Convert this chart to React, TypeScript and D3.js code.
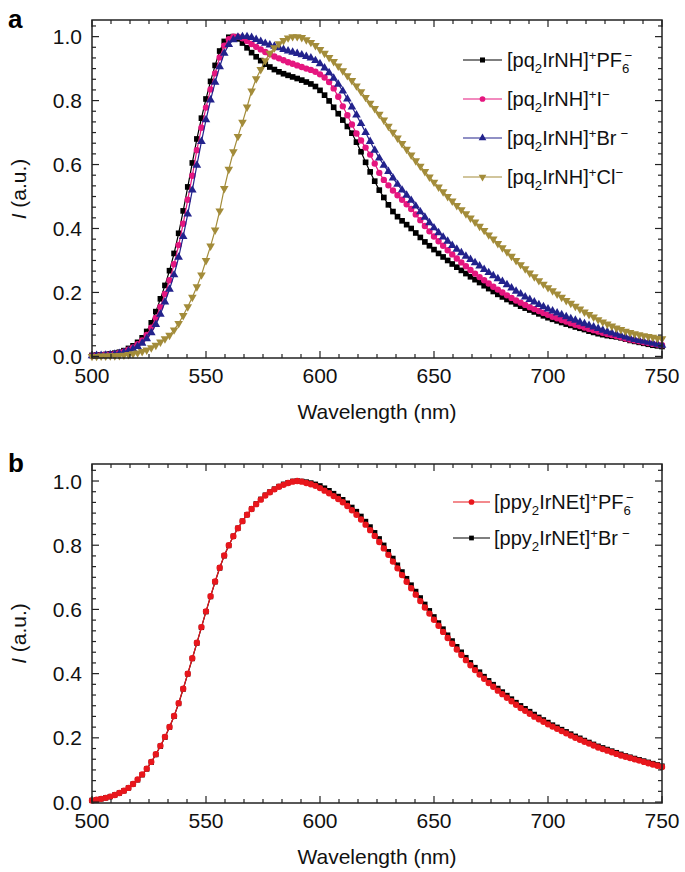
import React from 'react'
import * as d3 from 'd3'

const W = 685
const H = 872
const LEFT = 92
const RIGHT = 662
const FONT = '"Liberation Sans", Arial, Helvetica, sans-serif'

// emission spectra sampled every 2 nm
const WAVELENGTHS = d3.range(500, 751, 2)

// panel a
const PQ_PF6 = [
  0.003, 0.004, 0.005, 0.006, 0.008, 0.010, 0.013, 0.018, 0.025, 0.033,
  0.044, 0.058, 0.078, 0.105, 0.140, 0.180, 0.222, 0.268, 0.322, 0.385,
  0.455, 0.530, 0.605, 0.680, 0.745, 0.805, 0.860, 0.910, 0.955, 0.985,
  0.998, 1.000, 0.993, 0.980, 0.965, 0.950, 0.937, 0.925, 0.914, 0.905,
  0.897, 0.890, 0.884, 0.879, 0.874, 0.869, 0.864, 0.858, 0.852, 0.844,
  0.832, 0.817, 0.799, 0.779, 0.759, 0.739, 0.719, 0.698, 0.670, 0.640,
  0.607, 0.577, 0.548, 0.520, 0.497, 0.474, 0.453, 0.437, 0.424, 0.412,
  0.400, 0.386, 0.372, 0.358, 0.346, 0.334, 0.322, 0.311, 0.300, 0.289,
  0.279, 0.269, 0.259, 0.249, 0.240, 0.231, 0.221, 0.212, 0.203, 0.194,
  0.186, 0.178, 0.171, 0.164, 0.157, 0.151, 0.145, 0.139, 0.133, 0.127,
  0.121, 0.116, 0.111, 0.106, 0.101, 0.097, 0.092, 0.088, 0.084, 0.079,
  0.075, 0.071, 0.068, 0.065, 0.063, 0.061, 0.058, 0.054, 0.050, 0.047,
  0.044, 0.041, 0.038, 0.035, 0.033, 0.031,
]
const PQ_I = [
  0.002, 0.003, 0.004, 0.005, 0.006, 0.008, 0.011, 0.015, 0.021, 0.028,
  0.038, 0.050, 0.067, 0.090, 0.120, 0.155, 0.195, 0.238, 0.288, 0.348,
  0.415, 0.490, 0.565, 0.645, 0.715, 0.778, 0.835, 0.885, 0.935, 0.972,
  0.992, 1.000, 1.000, 0.995, 0.986, 0.977, 0.968, 0.960, 0.952, 0.945,
  0.938, 0.932, 0.926, 0.920, 0.915, 0.910, 0.905, 0.900, 0.896, 0.890,
  0.882, 0.872, 0.858, 0.838, 0.812, 0.782, 0.754, 0.725, 0.697, 0.675,
  0.653, 0.631, 0.603, 0.574, 0.552, 0.535, 0.519, 0.504, 0.490, 0.476,
  0.461, 0.444, 0.426, 0.408, 0.391, 0.375, 0.360, 0.346, 0.332, 0.319,
  0.306, 0.294, 0.282, 0.270, 0.259, 0.248, 0.238, 0.228, 0.218, 0.209,
  0.200, 0.191, 0.183, 0.175, 0.168, 0.161, 0.154, 0.148, 0.142, 0.136,
  0.130, 0.124, 0.119, 0.114, 0.109, 0.104, 0.099, 0.095, 0.090, 0.086,
  0.082, 0.078, 0.074, 0.070, 0.067, 0.064, 0.060, 0.056, 0.053, 0.050,
  0.047, 0.044, 0.042, 0.039, 0.037, 0.035,
]
const PQ_BR = [
  0.002, 0.003, 0.003, 0.004, 0.005, 0.007, 0.009, 0.012, 0.017, 0.023,
  0.031, 0.041, 0.055, 0.074, 0.100, 0.132, 0.170, 0.210, 0.255, 0.310,
  0.375, 0.445, 0.520, 0.598, 0.672, 0.740, 0.802, 0.857, 0.906, 0.948,
  0.975, 0.990, 0.998, 1.000, 1.000, 0.997, 0.991, 0.985, 0.979, 0.974,
  0.970, 0.965, 0.960, 0.955, 0.951, 0.947, 0.943, 0.938, 0.933, 0.925,
  0.915, 0.902, 0.887, 0.870, 0.851, 0.830, 0.805, 0.780, 0.755, 0.728,
  0.700, 0.672, 0.645, 0.620, 0.598, 0.578, 0.558, 0.538, 0.520, 0.504,
  0.488, 0.470, 0.452, 0.435, 0.418, 0.402, 0.387, 0.373, 0.360, 0.347,
  0.335, 0.324, 0.313, 0.303, 0.293, 0.283, 0.272, 0.262, 0.252, 0.243,
  0.234, 0.224, 0.214, 0.204, 0.195, 0.186, 0.178, 0.170, 0.162, 0.155,
  0.148, 0.142, 0.136, 0.130, 0.124, 0.118, 0.113, 0.107, 0.102, 0.097,
  0.092, 0.087, 0.082, 0.077, 0.073, 0.069, 0.065, 0.061, 0.057, 0.053,
  0.050, 0.047, 0.044, 0.041, 0.038, 0.035,
]
const PQ_CL = [
  0.000, 0.000, 0.001, 0.001, 0.002, 0.002, 0.003, 0.004, 0.006, 0.008,
  0.011, 0.015, 0.020, 0.027, 0.035, 0.045, 0.055, 0.066, 0.083, 0.103,
  0.128, 0.155, 0.185, 0.218, 0.255, 0.300, 0.345, 0.395, 0.455, 0.525,
  0.585, 0.640, 0.688, 0.732, 0.780, 0.830, 0.868, 0.897, 0.925, 0.948,
  0.965, 0.978, 0.988, 0.996, 1.000, 1.000, 0.997, 0.990, 0.982, 0.972,
  0.960, 0.948, 0.935, 0.922, 0.908, 0.893, 0.878, 0.863, 0.846, 0.828,
  0.810, 0.792, 0.775, 0.757, 0.739, 0.720, 0.701, 0.683, 0.666, 0.648,
  0.630, 0.612, 0.595, 0.578, 0.561, 0.545, 0.530, 0.515, 0.500, 0.486,
  0.472, 0.459, 0.446, 0.433, 0.420, 0.407, 0.394, 0.380, 0.367, 0.353,
  0.340, 0.327, 0.313, 0.300, 0.287, 0.274, 0.261, 0.249, 0.237, 0.226,
  0.215, 0.205, 0.195, 0.185, 0.175, 0.166, 0.157, 0.148, 0.139, 0.131,
  0.123, 0.115, 0.108, 0.101, 0.095, 0.089, 0.084, 0.079, 0.075, 0.071,
  0.068, 0.065, 0.062, 0.060, 0.057, 0.055,
]

// panel b
const PPY_PF6 = [
  0.005, 0.007, 0.010, 0.013, 0.017, 0.022, 0.028, 0.035, 0.044, 0.056,
  0.070, 0.086, 0.104, 0.125, 0.149, 0.175, 0.203, 0.234, 0.268, 0.308,
  0.353, 0.400, 0.448, 0.496, 0.545, 0.594, 0.641, 0.687, 0.730, 0.768,
  0.800, 0.828, 0.853, 0.875, 0.895, 0.913, 0.928, 0.942, 0.955, 0.965,
  0.974, 0.982, 0.988, 0.994, 0.998, 1.000, 0.998, 0.994, 0.990, 0.985,
  0.978, 0.970, 0.962, 0.953, 0.944, 0.934, 0.922, 0.909, 0.895, 0.880,
  0.864, 0.847, 0.829, 0.810, 0.790, 0.770, 0.749, 0.728, 0.707, 0.686,
  0.666, 0.646, 0.626, 0.606, 0.587, 0.568, 0.549, 0.530, 0.511, 0.493,
  0.475, 0.458, 0.442, 0.426, 0.411, 0.397, 0.384, 0.371, 0.359, 0.347,
  0.336, 0.325, 0.314, 0.303, 0.293, 0.284, 0.275, 0.266, 0.258, 0.250,
  0.242, 0.235, 0.228, 0.221, 0.214, 0.207, 0.200, 0.194, 0.188, 0.182,
  0.176, 0.170, 0.165, 0.160, 0.155, 0.150, 0.145, 0.141, 0.137, 0.133,
  0.129, 0.125, 0.121, 0.117, 0.113, 0.109,
]
const PPY_BR = [
  0.005, 0.007, 0.010, 0.013, 0.017, 0.022, 0.028, 0.035, 0.044, 0.056,
  0.069, 0.085, 0.103, 0.124, 0.148, 0.174, 0.202, 0.233, 0.267, 0.307,
  0.352, 0.399, 0.447, 0.495, 0.544, 0.593, 0.640, 0.686, 0.729, 0.767,
  0.799, 0.828, 0.853, 0.875, 0.895, 0.913, 0.929, 0.943, 0.956, 0.966,
  0.975, 0.983, 0.990, 0.995, 0.999, 1.000, 0.999, 0.997, 0.994, 0.990,
  0.985, 0.978, 0.970, 0.961, 0.952, 0.942, 0.931, 0.918, 0.905, 0.890,
  0.874, 0.857, 0.839, 0.820, 0.800, 0.780, 0.759, 0.738, 0.717, 0.696,
  0.676, 0.656, 0.636, 0.616, 0.596, 0.577, 0.558, 0.539, 0.520, 0.502,
  0.484, 0.467, 0.450, 0.434, 0.419, 0.405, 0.391, 0.378, 0.366, 0.354,
  0.343, 0.332, 0.321, 0.310, 0.300, 0.291, 0.282, 0.273, 0.264, 0.256,
  0.248, 0.240, 0.233, 0.226, 0.219, 0.212, 0.205, 0.199, 0.192, 0.186,
  0.180, 0.174, 0.169, 0.164, 0.159, 0.154, 0.149, 0.144, 0.140, 0.136,
  0.132, 0.128, 0.124, 0.120, 0.116, 0.112,
]

const X_MAJOR = [500, 550, 600, 650, 700, 750]
const Y_MAJOR = [0, 0.2, 0.4, 0.6, 0.8, 1.0]

// label parts: [text, kind]
const LABELS_A = [
  [['[pq'], ['2', 'sub'], ['IrNH]'], ['+', 'sup'], ['PF'], ['6', 'sub'], ['\u2212', 'supx']],
  [['[pq'], ['2', 'sub'], ['IrNH]'], ['+', 'sup'], ['I'], ['\u2212', 'sup']],
  [['[pq'], ['2', 'sub'], ['IrNH]'], ['+', 'sup'], ['Br'], ['\u2212', 'supg']],
  [['[pq'], ['2', 'sub'], ['IrNH]'], ['+', 'sup'], ['Cl'], ['\u2212', 'sup']],
]
const LABELS_B = [
  [['[ppy'], ['2', 'sub'], ['IrNEt]'], ['+', 'sup'], ['PF'], ['6', 'sub'], ['\u2212', 'supx']],
  [['[ppy'], ['2', 'sub'], ['IrNEt]'], ['+', 'sup'], ['Br'], ['\u2212', 'supg']],
]

const SERIES_A = [
  { values: PQ_PF6, color: '#000000', symbol: d3.symbolSquare, size: 32, rotate: 0 },
  { values: PQ_I, color: '#e5167f', symbol: d3.symbolCircle, size: 32, rotate: 0 },
  { values: PQ_BR, color: '#22228c', symbol: d3.symbolTriangle, size: 32, rotate: 0 },
  { values: PQ_CL, color: '#a38c3a', symbol: d3.symbolTriangle, size: 32, rotate: 180 },
]
const SERIES_B = [
  { values: PPY_BR, color: '#000000', symbol: d3.symbolSquare, size: 28, rotate: 0 },
  { values: PPY_PF6, color: '#e8161c', symbol: d3.symbolCircle, size: 32, rotate: 0 },
]

const RichText = ({ parts, x, y, size }) => {
  let offset = 0
  return (
    <text x={x} y={y} fontSize={size} fontFamily={FONT} fill="#111">
      {parts.map(([s, kind], i) => {
        const target = kind === 'sub' ? size * 0.3 : kind ? -size * 0.36 : 0
        const dy = target - offset
        offset = target
        const dx = kind === 'supx' ? -size * 0.25 : kind === 'supg' ? size * 0.2 : 0
        return (
          <tspan key={i} dx={dx} dy={dy} fontSize={kind ? size * 0.66 : size}>{s}</tspan>
        )
      })}
    </text>
  )
}

const Panel = ({ top, bottom, yDomain, letter, series, labels, legend }) => {
  const x = d3.scaleLinear().domain([500, 750]).range([LEFT, RIGHT])
  const y = d3.scaleLinear().domain(yDomain).range([bottom, top])
  const linePath = d3.line<number>()
    .x((_, i) => x(WAVELENGTHS[i]))
    .y(d => y(d))

  const xMinor = d3.range(0, 31).filter(i => i % 6 !== 0).map(i => 500 + i * 50 / 6)
  const yMinor = d3.range(0, 32).filter(i => i % 6 !== 0).map(i => i * 0.2 / 6).filter(v => v < yDomain[1])
  const tickColor = '#222'

  return (
    <g>
      <text x={8} y={top + 8} fontFamily={FONT} fontWeight="bold" fontSize={26}>{letter}</text>

      {series.map((s, k) => {
        const sym = d3.symbol(s.symbol, s.size)()
        return (
          <g key={k}>
            <path d={linePath(s.values)} fill="none" stroke={s.color} strokeWidth={1.2} />
            {s.values.map((v, i) => (
              <path key={i} d={sym}
                transform={`translate(${x(WAVELENGTHS[i])},${y(v)}) rotate(${s.rotate})`}
                fill={s.color} />
            ))}
          </g>
        )
      })}

      <rect x={LEFT} y={top} width={RIGHT - LEFT} height={bottom - top}
        fill="none" stroke={tickColor} strokeWidth={1.5} />

      {/* x ticks, bottom and top */}
      {X_MAJOR.map(t => (
        <g key={t}>
          <line x1={x(t)} x2={x(t)} y1={bottom} y2={bottom - 7} stroke={tickColor} strokeWidth={1.2} />
          <line x1={x(t)} x2={x(t)} y1={top} y2={top + 7} stroke={tickColor} strokeWidth={1.2} />
          <text x={x(t)} y={bottom + 25} textAnchor="middle" fontFamily={FONT} fontSize={21} fill="#111">{t}</text>
        </g>
      ))}
      {xMinor.map(t => (
        <g key={t}>
          <line x1={x(t)} x2={x(t)} y1={bottom} y2={bottom - 4} stroke={tickColor} strokeWidth={1.2} />
          <line x1={x(t)} x2={x(t)} y1={top} y2={top + 4} stroke={tickColor} strokeWidth={1.2} />
        </g>
      ))}

      {/* y ticks, left and right */}
      {Y_MAJOR.map(t => (
        <g key={t}>
          <line x1={LEFT} x2={LEFT + 7} y1={y(t)} y2={y(t)} stroke={tickColor} strokeWidth={1.2} />
          <line x1={RIGHT} x2={RIGHT - 7} y1={y(t)} y2={y(t)} stroke={tickColor} strokeWidth={1.2} />
          <text x={LEFT - 10} y={y(t) + 7.5} textAnchor="end" fontFamily={FONT} fontSize={21} fill="#111">{d3.format('.1f')(t)}</text>
        </g>
      ))}
      {yMinor.map(t => (
        <g key={t}>
          <line x1={LEFT} x2={LEFT + 4} y1={y(t)} y2={y(t)} stroke={tickColor} strokeWidth={1.2} />
          <line x1={RIGHT} x2={RIGHT - 4} y1={y(t)} y2={y(t)} stroke={tickColor} strokeWidth={1.2} />
        </g>
      ))}

      <text x={(LEFT + RIGHT) / 2} y={bottom + 61} textAnchor="middle" fontFamily={FONT} fontSize={21} fill="#111">
        Wavelength (nm)
      </text>
      <text transform={`translate(26,${(top + bottom) / 2}) rotate(-90)`} textAnchor="middle"
        fontFamily={FONT} fontSize={21} fill="#111">
        <tspan fontStyle="italic">I</tspan> (a.u.)
      </text>

      {/* legend */}
      {labels.map((parts, i) => {
        const s = legend.order[i]
        const cy = legend.y + i * legend.gap
        const cx = (legend.x1 + legend.x2) / 2
        return (
          <g key={i}>
            <line x1={legend.x1} x2={legend.x2} y1={cy} y2={cy} stroke={s.color} strokeWidth={1.2} />
            <path d={d3.symbol(s.symbol, s.size * 0.8)()} transform={`translate(${cx},${cy}) rotate(${s.rotate})`} fill={s.color} />
            <RichText parts={parts} x={legend.text} y={cy + 7} size={20} />
          </g>
        )
      })}
    </g>
  )
}

const App = () => {
  return (
    <svg width={W} height={H} style={{ position: 'absolute', left: 0, top: 0, background: '#fff' }}>
      <Panel top={20} bottom={358} yDomain={[-0.005, 1.052]} letter="a"
        series={SERIES_A} labels={LABELS_A}
        legend={{ order: SERIES_A, x1: 463, x2: 502, text: 507, y: 60, gap: 39 }} />
      <Panel top={464} bottom={803} yDomain={[-0.003, 1.053]} letter="b"
        series={SERIES_B} labels={LABELS_B}
        legend={{ order: [SERIES_B[1], SERIES_B[0]], x1: 453, x2: 490, text: 494, y: 502, gap: 36 }} />
    </svg>
  )
}

export default App
